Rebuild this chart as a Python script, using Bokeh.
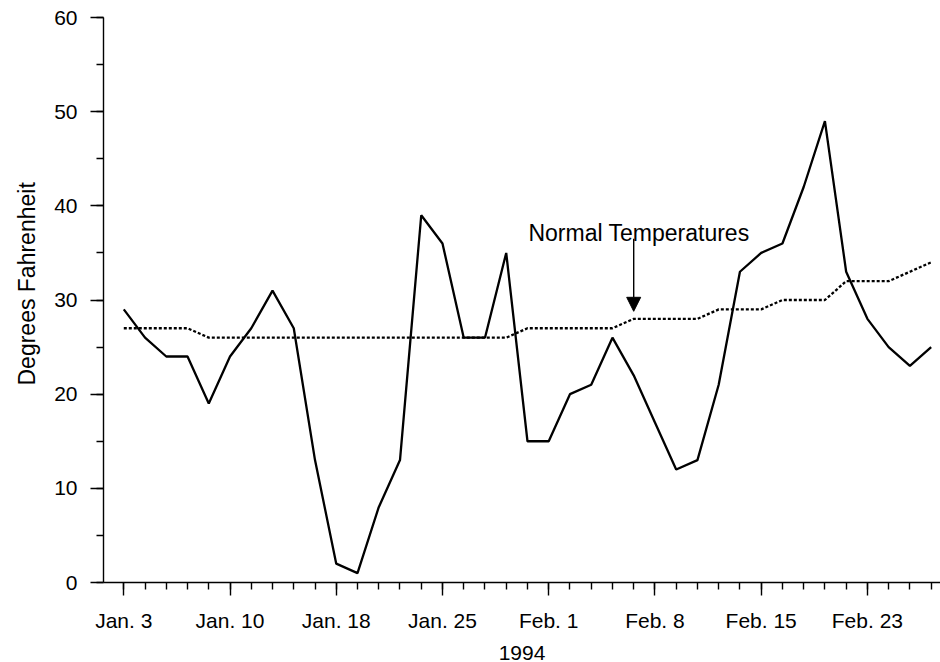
from bokeh.plotting import figure
from bokeh.models import Range1d, FixedTicker, Label, Arrow, NormalHead, Title, ColumnDataSource
from bokeh.embed import file_html
from bokeh.resources import INLINE

# Trading days (business days, holidays Jan 17 and Feb 21 omitted), 1994
days = ["Jan 3", "Jan 4", "Jan 5", "Jan 6", "Jan 7",
        "Jan 10", "Jan 11", "Jan 12", "Jan 13", "Jan 14",
        "Jan 18", "Jan 19", "Jan 20", "Jan 21",
        "Jan 24", "Jan 25", "Jan 26", "Jan 27", "Jan 28",
        "Jan 31", "Feb 1", "Feb 2", "Feb 3", "Feb 4",
        "Feb 7", "Feb 8", "Feb 9", "Feb 10", "Feb 11",
        "Feb 14", "Feb 15", "Feb 16", "Feb 17", "Feb 18",
        "Feb 22", "Feb 23", "Feb 24", "Feb 25", "Feb 28"]

actual = [29, 26, 24, 24, 19,
          24, 27, 31, 27, 13,
          2, 1, 8, 13,
          39, 36, 26, 26, 35,
          15, 15, 20, 21, 26,
          22, 17, 12, 13, 21,
          33, 35, 36, 42, 49,
          33, 28, 25, 23, 25]

normal = [27, 27, 27, 27, 26,
          26, 26, 26, 26, 26,
          26, 26, 26, 26,
          26, 26, 26, 26, 26,
          27, 27, 27, 27, 27,
          28, 28, 28, 28, 29,
          29, 29, 30, 30, 30,
          32, 32, 32, 33, 34]

tick_days = ["Jan 3", "Jan 10", "Jan 18", "Jan 25", "Feb 1", "Feb 8", "Feb 15", "Feb 23"]
tick_labels = ["Jan. 3", "Jan. 10", "Jan. 18", "Jan. 25", "Feb. 1", "Feb. 8", "Feb. 15", "Feb. 23"]
y_major = [0, 10, 20, 30, 40, 50, 60]
y_minor = [0, 5, 10, 15, 20, 25, 30, 35, 40, 45, 50, 55, 60]

annot_text = "Normal Temperatures"
annot_day = "Feb 7"
x_title = "1994"
y_title = "Degrees Fahrenheit"

FONT = "Liberation Sans"

idx = list(range(len(days)))
src = ColumnDataSource(dict(x=idx, actual=actual, normal=normal))

p = figure(width=940, height=662,
           x_range=Range1d(-0.955, 38.44), y_range=Range1d(0, 60),
           output_backend="svg", toolbar_location=None,
           min_border_left=103, min_border_right=0, min_border_top=17, min_border_bottom=0)
p.outline_line_color = None
p.background_fill_color = "white"
p.border_fill_color = "white"
p.xgrid.visible = False
p.ygrid.visible = False

p.line("x", "normal", source=src, line_color="black", line_width=2.3, line_dash="3 2")
p.line("x", "actual", source=src, line_color="black", line_width=2.3)

# x axis
xa = p.xaxis[0]
xa.ticker = FixedTicker(ticks=[days.index(d) for d in tick_days], minor_ticks=idx)
xa.major_label_overrides = {days.index(d): lab for d, lab in zip(tick_days, tick_labels)}
xa.axis_label = x_title
# y axis
ya = p.yaxis[0]
ya.ticker = FixedTicker(ticks=y_major, minor_ticks=y_minor)

for ax in (xa, ya):
    ax.axis_line_color = "black"
    ax.axis_line_width = 1.4
    ax.major_tick_line_color = "black"
    ax.minor_tick_line_color = "black"
    ax.major_tick_line_width = 1.4
    ax.minor_tick_line_width = 1.4
    ax.major_tick_out = 13
    ax.major_tick_in = 0
    ax.minor_tick_out = 7
    ax.minor_tick_in = 0
    ax.major_label_text_font = FONT
    ax.major_label_text_font_size = "21px"
    ax.major_label_text_color = "black"
    ax.axis_label_text_font = FONT
    ax.axis_label_text_font_size = "21px"
    ax.axis_label_text_font_style = "normal"
    ax.axis_label_text_color = "black"

xa.major_label_standoff = 13
xa.axis_label_standoff = 11
ya.major_label_standoff = 13

# y-axis title as a left-side Title (so it can sit above the frame's centre)
p.add_layout(Title(text=y_title, align="left", vertical_align="top", offset=197, standoff=20,
                   text_font=FONT, text_font_size="23px", text_font_style="normal",
                   text_color="black"), "left")

ai = days.index(annot_day)
p.add_layout(Arrow(end=NormalHead(size=14, fill_color="black", line_color="black", line_width=1),
                   x_start=ai, y_start=normal[ai] + 8.5, x_end=ai, y_end=normal[ai] + 0.8,
                   line_color="black", line_width=1.4))
p.add_layout(Label(x=ai + 0.25, y=normal[ai] + 9.07, text=annot_text, text_align="center",
                   text_baseline="alphabetic", text_font=FONT, text_font_size="23px",
                   text_color="black"))

open("out.html", "w").write(file_html(p, INLINE))
